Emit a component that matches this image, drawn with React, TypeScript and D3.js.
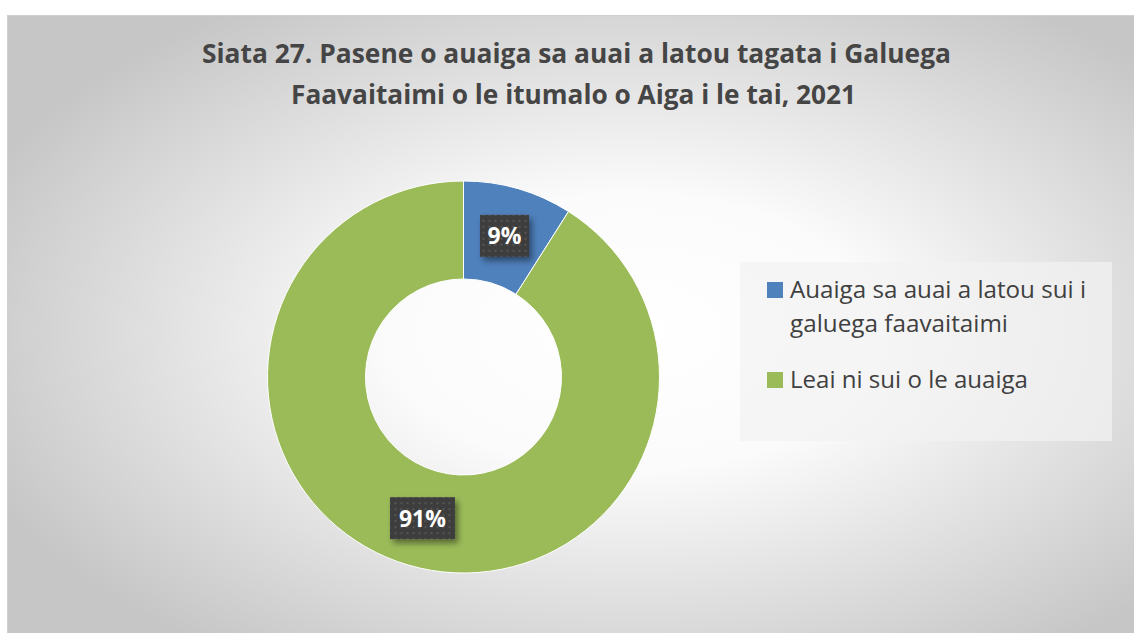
import React from "react";
import * as d3 from "d3";

const categories = ["Auaiga sa auai a latou sui i galuega faavaitaimi", "Leai ni sui o le auaiga"];
const legendLines = [["Auaiga sa auai a latou sui i", "galuega faavaitaimi"], ["Leai ni sui o le auaiga"]];
const values = [9, 91];
const labels = ["9%", "91%"];
const colors = ["#4f81bd", "#9bbb59"];
const titleLines = ["Siata 27. Pasene o auaiga sa auai a latou tagata i Galuega", "Faavaitaimi o le itumalo o Aiga i le tai, 2021"];

const W = 1134, H = 633;
const FONT = "'Open Sans', 'Noto Sans', sans-serif";

export default function App() {
  const cx = 463.5, cy = 377, rOuter = 196, rInner = 98;
  const pie = d3.pie<number>().sort(null).value((d) => d);
  const arcs = pie(values);
  const arc = d3.arc<d3.PieArcDatum<number>>().innerRadius(rInner).outerRadius(rOuter);
  const labelArc = d3.arc<d3.PieArcDatum<number>>().innerRadius((rInner + rOuter) / 2).outerRadius((rInner + rOuter) / 2);
  const boxW = [49, 65];
  const boxH = 42;

  const legendY = [298, 388];
  const legendLen = [[296, 218], [238]];
  const titleX = [576.5, 573.5];
  const titleLen = [749, 565];
  return (
    <svg width={W} height={H} style={{ position: "absolute", left: 0, top: 0 }} fontFamily={FONT}>
      <defs>
        <radialGradient id="bg" cx="0.55" cy="0.5" r="0.62" fx="0.55" fy="0.5">
          <stop offset="0" stopColor="#ffffff" />
          <stop offset="0.35" stopColor="#fbfbfb" />
          <stop offset="1" stopColor="#c6c6c6" />
        </radialGradient>
        <pattern id="dots" width="6" height="6" patternUnits="userSpaceOnUse">
          <rect width="6" height="6" fill="#3d3d3d" />
          <rect x="2" y="2" width="2" height="2" fill="#555555" />
        </pattern>
        <filter id="shadow" x="-30%" y="-30%" width="160%" height="160%">
          <feGaussianBlur in="SourceAlpha" stdDeviation="3" />
          <feOffset dx="3" dy="4" result="b" />
          <feComponentTransfer><feFuncA type="linear" slope="0.45" /></feComponentTransfer>
          <feMerge><feMergeNode /><feMergeNode in="SourceGraphic" /></feMerge>
        </filter>
      </defs>
      <rect x={0} y={0} width={W} height={H} fill="#ffffff" />
      <rect x={7.5} y={15.5} width={W} height={H} fill="url(#bg)" stroke="#d0d0d0" strokeWidth={1} />
      {titleLines.map((t, i) => (
        <text key={i} x={titleX[i]} y={63 + i * 41} textAnchor="middle" fontSize={26} fontWeight={700} fill="#454545"
          textLength={titleLen[i]} lengthAdjust="spacingAndGlyphs">{t}</text>
      ))}
      <g transform={`translate(${cx},${cy})`}>
        {arcs.map((a, i) => (
          <path key={i} d={arc(a) || ""} fill={colors[i]} stroke="#ffffff" strokeWidth={1} />
        ))}
        {arcs.map((a, i) => {
          const [lx, ly] = labelArc.centroid(a);
          return (
            <g key={"l" + i} transform={`translate(${lx},${ly})`}>
              <rect x={-boxW[i] / 2} y={-boxH / 2} width={boxW[i]} height={boxH} fill="url(#dots)" filter="url(#shadow)" />
              <text x={0} y={8.5} textAnchor="middle" fontSize={23} fontWeight={700} fill="#ffffff">{labels[i]}</text>
            </g>
          );
        })}
      </g>
      <rect x={740} y={262} width={372} height={179} fill="#f2f2f2" opacity={0.7} />
      {categories.map((c, i) => (
        <g key={c}>
          <rect x={767} y={legendY[i] - 16} width={16} height={16} fill={colors[i]} />
          {legendLines[i].map((ln, j) => (
            <text key={j} x={790} y={legendY[i] + j * 34} fontSize={23} fill="#404040"
              textLength={legendLen[i][j]} lengthAdjust="spacingAndGlyphs">{ln}</text>
          ))}
        </g>
      ))}
    </svg>
  );
}
